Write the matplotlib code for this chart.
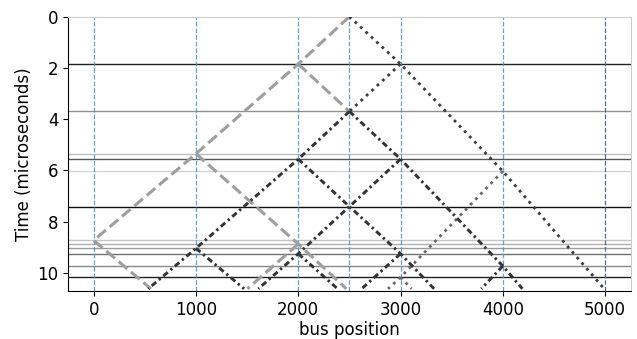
import matplotlib.pyplot as plt

# bus taps (blue dashed) and the far end of the bus
node_x = [0, 1000, 2000, 2500, 3000, 4000]
bus_end = 5000

# times (us) where a wave reaches a tap, and the grey level of each marker line
event_t = [1.85, 3.70, 5.35, 5.56, 6.03, 7.41, 8.73, 8.87, 9.04, 9.25, 9.73, 10.17]
event_col = ['#222222', '#909090', '#bdbdbd', '#555555', '#d4d4d4', '#111111',
             '#c4c4c4', '#b0b0b0', '#999999', '#707070', '#888888', '#222222']

# wave fronts: (positions, times)
grey_dashed = [
    ([2500, 2000, 1000, 0, 559], [0, 1.85, 5.35, 8.73, 10.62]),
    ([2000, 2500], [1.85, 3.70]),
    ([1000, 2000, 2470], [5.35, 8.87, 10.62]),
    ([2000, 1503], [8.87, 10.62]),
]
dark_dotted = [
    ([2500, 3000, 4000, 5000], [0, 1.85, 6.03, 10.66]),
    ([3000, 2500], [1.85, 3.70]),
]
light_dotted = [
    ([4000, 3000, 2878], [6.03, 10.17, 10.62]),
    ([3000, 3108], [10.17, 10.62]),
]
dash_dot = [
    ([2500, 2000, 1000, 533], [3.70, 5.56, 9.04, 10.62]),
    ([2500, 3000, 4000, 4192], [3.70, 5.56, 9.73, 10.62]),
    ([2000, 2500, 3000, 3328], [5.56, 7.41, 9.25, 10.62]),
    ([3000, 2500, 2000, 1609], [5.56, 7.41, 9.25, 10.62]),
    ([1000, 1470], [9.04, 10.62]),
    ([2000, 2385], [9.25, 10.62]),
    ([3000, 2620], [9.25, 10.62]),
    ([4000, 3790], [9.73, 10.62]),
]

fig = plt.figure(figsize=(6.37, 3.39), dpi=100)
ax = fig.add_axes([0.107, 0.142, 0.883, 0.809])

for t, c in zip(event_t, event_col):
    ax.axhline(t, color=c, lw=1, zorder=1)

for x in node_x:
    ax.axvline(x, color='#4a90d0', ls='--', lw=0.9, alpha=0.85, zorder=2)
ax.axvline(bus_end, color='#4f6f90', ls='--', lw=0.9, zorder=2)

for xs, ts in grey_dashed:
    ax.plot(xs, ts, color='#9e9e9e', ls='--', lw=2.2, zorder=3)
for xs, ts in light_dotted:
    ax.plot(xs, ts, color='#666666', ls=':', lw=2.0, zorder=3)
for xs, ts in dark_dotted:
    ax.plot(xs, ts, color='#3a3a3a', ls=':', lw=2.0, zorder=4)
for xs, ts in dash_dot:
    ax.plot(xs, ts, color='#333333', lw=2.1, zorder=4, dashes=(2.0, 1.2, 0.8, 1.2))

ax.set_xlim(-250, 5250)
ax.set_ylim(10.7, 0)
ax.set_xticks([0, 1000, 2000, 3000, 4000, 5000])
ax.set_yticks([0, 2, 4, 6, 8, 10])
ax.tick_params(labelsize=12)
ax.spines['top'].set_color('#cccccc')
ax.spines['right'].set_color('#cccccc')
ax.set_xlabel('bus position', fontsize=12, labelpad=2)
ax.set_ylabel('Time (microseconds)', fontsize=12, labelpad=3)

plt.savefig('out.png', dpi=100)
